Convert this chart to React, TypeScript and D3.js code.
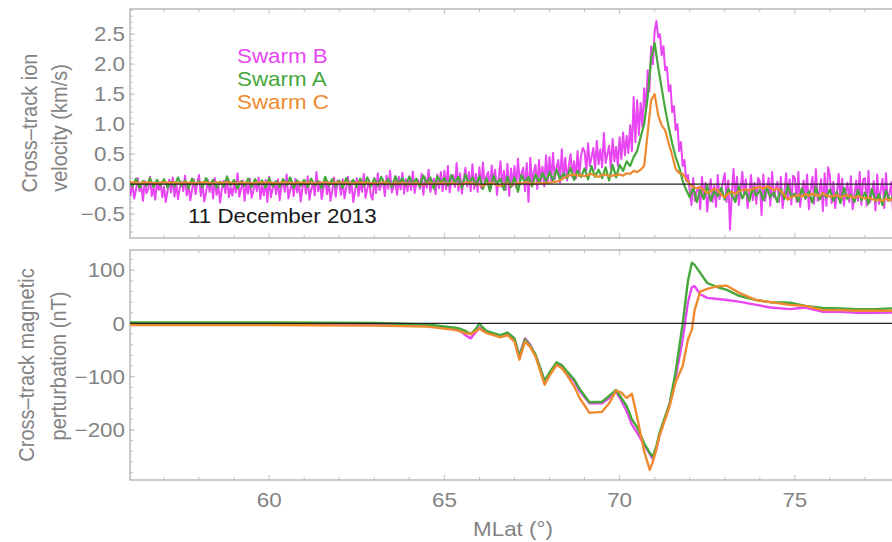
import React from "react";
import * as d3 from "d3";

const W = 892;
const H = 542;

const LAT_START = 56;

// Swarm B cross-track ion velocity (km/s), one sample every 0.05° MLat from 56°
const VEL_B_STEP = 0.05;
const VEL_B = [
  // 56
  0.08, -0.18, 0.02, -0.24, -0.10, 0.10, -0.12, -0.02, -0.28, 0.05, -0.15, -0.08, 0.12, -0.20, -0.05, -0.26, 0.06, -0.10, 0.03, -0.22,
  // 57
  -0.04, -0.30, -0.12, 0.07, -0.14, 0.11, -0.21, 0.01, -0.25, -0.06, 0.04, -0.12, 0.14, -0.19, -0.03, -0.27, -0.10, 0.08, -0.17, 0.02,
  // 58
  0.15, -0.20, 0.00, -0.29, -0.14, 0.07, -0.13, 0.04, -0.24, 0.10, -0.18, -0.02, -0.31, -0.09, 0.05, -0.15, 0.13, -0.22, -0.05, -0.19,
  // 59
  0.02, -0.14, 0.18, -0.21, -0.08, 0.06, -0.28, 0.01, -0.16, 0.09, -0.23, -0.11, 0.04, -0.12, 0.11, -0.25, -0.01, -0.19, 0.07, -0.30,
  // 60
  0.12, -0.22, -0.07, 0.03, -0.17, 0.08, -0.27, -0.04, 0.00, -0.13, 0.16, -0.24, -0.10, 0.04, -0.20, 0.09, -0.14, 0.02, -0.29, -0.06,
  // 61
  0.07, -0.16, 0.13, -0.26, -0.09, 0.01, -0.19, 0.20, -0.12, 0.04, -0.25, -0.07, 0.09, -0.17, 0.03, -0.28, -0.11, 0.11, -0.21, 0.06,
  // 62
  0.02, -0.18, 0.08, -0.24, -0.06, 0.12, -0.15, 0.05, -0.30, -0.12, 0.10, -0.20, 0.04, -0.13, 0.17, -0.23, -0.08, 0.07, -0.19, -0.26,
  // 63
  0.10, -0.15, 0.18, -0.10, -0.02, 0.06, -0.20, 0.14, -0.08, 0.22, -0.14, -0.04, 0.05, -0.18, 0.12, -0.09, 0.19, -0.16, 0.08, -0.12,
  // 64
  0.13, -0.10, 0.21, -0.15, 0.01, 0.07, -0.08, 0.17, -0.18, 0.11, -0.06, 0.24, -0.13, 0.03, 0.09, -0.17, 0.16, -0.07, 0.20, -0.12,
  // 65
  0.22, -0.09, 0.30, -0.14, 0.05, 0.15, -0.05, 0.35, -0.11, 0.18, -0.16, 0.08, 0.27, -0.04, 0.20, -0.12, 0.33, -0.08, 0.17, -0.13,
  // 66
  0.28, -0.07, 0.36, -0.02, 0.12, 0.20, -0.12, 0.31, 0.01, 0.24, -0.18, 0.10, 0.38, -0.05, 0.22, -0.10, 0.34, -0.20, 0.26, -0.03,
  // 67
  0.30, -0.06, 0.42, 0.02, 0.18, 0.27, -0.12, 0.35, -0.30, 0.44, 0.00, 0.20, 0.32, -0.08, 0.40, 0.05, 0.29, -0.04, 0.48, 0.04,
  // 68
  0.45, 0.05, 0.52, 0.08, 0.28, 0.40, 0.02, 0.58, 0.10, 0.44, 0.06, 0.30, 0.50, 0.12, 0.38, 0.09, 0.55, 0.14, 0.47, 0.60,
  // 69
  0.55, 0.22, 0.68, 0.30, 0.45, 0.60, 0.25, 0.72, 0.33, 0.58, 0.28, 0.85, 0.35, 0.50, 0.64, 0.26, 0.75, 0.38, 0.62, 0.30,
  // 70
  0.78, 0.42, 0.86, 0.48, 0.80, 0.52, 0.98, 0.55, 1.45, 0.70, 1.40, 0.82, 1.35, 0.95, 1.60, 1.20, 1.90, 1.55, 2.30, 2.00,
  // 71
  2.55, 2.72, 2.45, 2.50, 2.15, 2.30, 1.90, 1.95, 1.55, 1.65, 1.20, 1.30, 0.90, 1.00, 0.55, 0.70, 0.30, 0.40, 0.05, 0.15,
  // 72
  -0.10, -0.35, 0.10, -0.28, -0.12, -0.05, -0.42, 0.12, -0.22, 0.02, -0.46, -0.15, 0.08, -0.30, -0.02, -0.38, 0.15, -0.25, -0.10, 0.04,
  // 73
  0.18, -0.30, 0.06, -0.76, -0.18, 0.25, -0.24, 0.12, -0.35, -0.10, 0.20, -0.18, 0.08, -0.40, -0.14, 0.15, -0.27, 0.02, -0.33, 0.10,
  // 74
  0.05, -0.52, 0.16, -0.28, -0.12, 0.10, -0.36, 0.20, -0.22, -0.08, 0.04, -0.30, 0.12, -0.40, -0.16, 0.18, -0.26, 0.08, -0.34, 0.14,
  // 75
  0.10, -0.30, 0.20, -0.38, -0.14, 0.06, -0.25, 0.16, -0.42, -0.10, 0.12, -0.33, 0.25, -0.28, -0.12, 0.08, -0.45, 0.18, -0.36, 0.28,
  // 76
  0.14, -0.32, 0.04, -0.40, -0.16, 0.17, -0.26, 0.09, -0.36, -0.12, 0.02, -0.30, 0.13, -0.42, -0.18, 0.06, -0.28, 0.20, -0.35, 0.08,
  // 77
  0.10, -0.36, 0.22, -0.30, -0.14, 0.05, -0.44, 0.16, -0.33, -0.10, 0.09, -0.40, 0.18, -0.28, -0.16, 0.03, -0.46, 0.14, -0.34, 0.07,
  // 78
  0.05,
];

// Swarm A cross-track ion velocity (km/s), one sample every 0.1° MLat from 56°
const VEL_A_STEP = 0.1;
const VEL_A = [
  0.06, -0.04, 0.09, -0.06, 0.05, -0.03, 0.10, -0.05, 0.07, -0.02, // 56
  0.08, -0.06, 0.04, -0.04, 0.11, -0.03, 0.06, -0.07, 0.09, -0.02, // 57
  0.05, -0.05, 0.10, -0.03, 0.07, -0.06, 0.04, -0.04, 0.12, -0.02, // 58
  0.07, -0.07, 0.05, -0.03, 0.09, -0.05, 0.08, -0.02, 0.06, -0.06, // 59
  0.10, -0.04, 0.05, -0.05, 0.08, -0.02, 0.11, -0.06, 0.06, -0.03, // 60
  0.07, -0.05, 0.09, -0.02, 0.05, -0.07, 0.12, -0.03, 0.08, -0.04, // 61
  0.06, -0.06, 0.10, -0.02, 0.07, -0.05, 0.09, -0.03, 0.11, -0.04, // 62
  0.09, -0.03, 0.12, -0.01, 0.08, -0.05, 0.13, 0.00, 0.10, -0.02, // 63
  0.12, 0.00, 0.09, -0.04, 0.14, 0.01, 0.11, -0.08, 0.13, 0.02, // 64
  0.10, -0.03, 0.15, 0.02, 0.12, -0.06, 0.16, 0.01, 0.11, -0.02, // 65
  0.13, -0.08, 0.10, -0.12, 0.14, 0.00, 0.09, -0.10, 0.12, -0.05, // 66
  0.11, -0.13, 0.15, 0.02, 0.12, -0.04, 0.16, 0.03, 0.18, 0.05, // 67
  0.20, 0.06, 0.24, 0.08, 0.18, 0.10, 0.27, 0.07, 0.22, 0.12, // 68
  0.26, 0.08, 0.30, 0.12, 0.24, 0.10, 0.28, 0.06, 0.32, 0.11, // 69
  0.32, 0.22, 0.38, 0.30, 0.45, 0.55, 0.78, 1.00, 1.45, 2.10, // 70
  2.35, 1.95, 1.60, 1.25, 0.95, 0.68, 0.45, 0.28, 0.05, -0.10, // 71
  -0.22, -0.05, -0.30, -0.10, -0.25, -0.02, -0.28, -0.12, -0.20, -0.06, // 72
  -0.26, -0.08, -0.18, -0.30, -0.04, -0.24, -0.12, -0.28, -0.06, -0.20, // 73
  -0.10, -0.27, -0.05, -0.22, -0.14, -0.30, -0.08, -0.25, -0.03, -0.21, // 74
  -0.16, -0.29, -0.07, -0.24, -0.12, -0.31, -0.05, -0.26, -0.15, -0.22, // 75
  -0.09, -0.28, -0.13, -0.32, -0.06, -0.25, -0.18, -0.30, -0.10, -0.27, // 76
  -0.14, -0.33, -0.08, -0.29, -0.17, -0.35, -0.11, -0.28, -0.20, -0.31, // 77
  -0.22, // 78
];

// Swarm C cross-track ion velocity (km/s), one sample every 0.1° MLat from 56°
const VEL_C_STEP = 0.1;
const VEL_C = [
  0.02, 0.03, 0.02, 0.01, 0.03, 0.02, 0.03, 0.02, 0.01, 0.02, // 56
  0.03, 0.02, 0.02, 0.03, 0.01, 0.02, 0.03, 0.02, 0.02, 0.01, // 57
  0.02, 0.03, 0.02, 0.02, 0.01, 0.03, 0.02, 0.02, 0.03, 0.02, // 58
  0.01, 0.02, 0.03, 0.02, 0.02, 0.01, 0.02, 0.03, 0.02, 0.02, // 59
  0.03, 0.02, 0.01, 0.02, 0.03, 0.02, 0.02, 0.01, 0.02, 0.03, // 60
  0.02, 0.02, 0.03, 0.01, 0.02, 0.02, 0.03, 0.02, 0.01, 0.02, // 61
  0.02, 0.03, 0.02, 0.02, 0.01, 0.02, 0.03, 0.02, 0.02, 0.01, // 62
  0.02, 0.01, 0.02, 0.03, 0.01, 0.00, 0.02, 0.01, 0.02, 0.01, // 63
  0.00, 0.01, 0.02, 0.00, -0.01, 0.01, 0.02, 0.00, 0.01, 0.02, // 64
  0.01, 0.00, 0.02, 0.01, -0.01, 0.00, 0.02, 0.03, 0.01, 0.00, // 65
  -0.01, -0.03, 0.00, 0.02, 0.01, -0.02, -0.03, 0.00, 0.01, -0.01, // 66
  0.00, 0.02, 0.01, 0.03, 0.02, 0.00, 0.01, 0.02, 0.01, 0.02, // 67
  0.02, 0.03, 0.04, 0.06, 0.10, 0.13, 0.15, 0.16, 0.14, 0.15, // 68
  0.13, 0.15, 0.17, 0.14, 0.12, 0.15, 0.16, 0.13, 0.14, 0.15, // 69
  0.16, 0.14, 0.18, 0.17, 0.22, 0.20, 0.24, 0.30, 0.85, 1.40, // 70
  1.50, 1.15, 0.98, 0.90, 0.68, 0.48, 0.25, 0.18, 0.17, 0.08, // 71
  0.00, -0.05, -0.07, -0.05, -0.10, -0.15, -0.12, -0.08, -0.10, -0.18, // 72
  -0.22, -0.16, -0.13, -0.17, -0.12, -0.10, -0.09, -0.11, -0.08, -0.06, // 73
  -0.05, -0.08, -0.04, -0.06, -0.10, -0.07, -0.12, -0.18, -0.26, -0.22, // 74
  -0.20, -0.18, -0.21, -0.17, -0.19, -0.16, -0.18, -0.20, -0.15, -0.19, // 75
  -0.21, -0.20, -0.18, -0.22, -0.20, -0.19, -0.21, -0.23, -0.20, -0.22, // 76
  -0.24, -0.22, -0.25, -0.27, -0.26, -0.28, -0.25, -0.27, -0.24, -0.26, // 77
  -0.25, // 78
];

// Cross-track magnetic perturbation (nT) at these MLat values
const MAG_LAT = [
  56, 60, 63, 64.5, 65.3, 65.45, 65.6, 65.75, 65.9, 66.0, 66.1, 66.2, 66.4, 66.6, 66.8, 67.0, 67.14, 67.3, 67.45, 67.6, 67.86,
  68.0, 68.2, 68.35, 68.5, 68.7, 68.86, 69.14, 69.5, 69.7, 69.9, 70.05, 70.2, 70.35, 70.5, 70.7, 70.86, 70.95, 71.05, 71.14, 71.43,
  71.6, 71.8, 71.95, 72.06, 72.14, 72.3, 72.5, 72.8, 73.06, 73.4, 73.9, 74.3, 74.86, 75.3,
  75.8, 76.3, 76.77, 77.3, 78,
];
const MAG_B = [
  0, 0, -1, -4, -10, -14, -22, -28, -16, -8, -12, -16, -20, -24, -18, -30, -60, -28, -40, -60, -108,
  -95, -75, -80, -94, -108, -127, -150, -150, -140, -128, -145, -165, -190, -205, -228, -245, -255, -235, -210, -150,
  -100, -30, 40, 68, 70, 55, 48, 46, 44, 41, 35, 30, 27, 30,
  22, 22, 20, 20, 21,
];
const MAG_A = [
  2, 2, 1, -2, -8, -10, -14, -20, -10, 0, -8, -14, -18, -22, -17, -28, -62, -30, -42, -58, -108,
  -92, -73, -78, -90, -105, -123, -148, -147, -136, -125, -140, -155, -180, -195, -225, -243, -250, -230, -205, -150,
  -90, 0, 80, 114, 110, 95, 76, 68, 63, 52, 44, 40, 39, 33,
  29, 28, 27, 27, 29,
];
const MAG_C = [
  -3, -3, -4, -6, -12, -15, -18, -20, -14, -10, -14, -18, -22, -26, -22, -34, -68, -34, -44, -62, -115,
  -98, -78, -84, -97, -118, -140, -168, -166, -150, -126, -130, -140, -132, -176, -240, -275, -260, -235, -210, -155,
  -110, -80, -30, -12, 25, 60, 65, 70, 71, 58, 44, 40, 35, 33,
  25, 25, 24, 24, 24,
];

const X_TICKS = [60, 65, 70, 75];
const VEL_TICKS = [-0.5, 0, 0.5, 1, 1.5, 2, 2.5];
const MAG_TICKS = [-200, -100, 0, 100];

const SWARM_NAMES = ["Swarm B", "Swarm A", "Swarm C"];
const SWARM_COLORS = ["#e846f2", "#45a83b", "#f08a2e"];

const DATE_LABEL = "11 December 2013";
const X_TITLE = "MLat (°)";
const VEL_TITLE = ["Cross–track ion", "velocity (km/s)"];
const MAG_TITLE = ["Cross–track magnetic", "perturbation (nT)"];

const FONT = "'Liberation Sans', Arial, Helvetica, sans-serif";
const GREY_TEXT = "#838383";
const FRAME = "#a8a8a8";
const TICK = "#c4c4c4";
const SX = 1.12;

const LEFT = 130;
const RIGHT = 900;
const TOP1 = 9;
const BOT1 = 238;
const TOP2 = 250;
const BOT2 = 480;

const x = d3.scaleLinear().domain([56.03, 78]).range([LEFT, RIGHT]);
const yVel = d3.scaleLinear().domain([-0.9, 2.92]).range([BOT1, TOP1]);
const yMag = d3.scaleLinear().domain([-294, 138]).range([BOT2, TOP2]);

function sampled(values: number[], step: number): [number, number][] {
  return values.map((v, i) => [LAT_START + i * step, v]);
}

function Label(props: {
  x: number;
  y: number;
  anchor?: string;
  size?: number;
  fill?: string;
  rotate?: boolean;
  dy?: string;
  children: React.ReactNode;
}) {
  const { x: tx, y: ty, anchor = "start", size = 20, fill = GREY_TEXT, rotate, dy, children } = props;
  return (
    <g transform={`translate(${tx},${ty}) scale(${SX},1)${rotate ? " rotate(-90)" : ""}`}>
      <text textAnchor={anchor} fontSize={size} fill={fill} fontFamily={FONT} dy={dy}>
        {children}
      </text>
    </g>
  );
}

function Frame({ top, bottom, yScale, major, minor, xLen }: any) {
  const xMinor = d3.range(57, 79, 1);
  return (
    <g>
      {xMinor.map((t) => {
        const len = t % 5 === 0 ? 5 : 3;
        return (
          <g key={"xt" + t}>
            <line x1={x(t)} x2={x(t)} y1={top} y2={top + len} stroke={TICK} />
            <line x1={x(t)} x2={x(t)} y1={bottom} y2={bottom - len} stroke={TICK} />
          </g>
        );
      })}
      {minor.map((t: number, i: number) => (
        <line key={"ym" + i} x1={LEFT} x2={LEFT + 3} y1={yScale(t)} y2={yScale(t)} stroke={TICK} />
      ))}
      {major.map((t: number, i: number) => (
        <line key={"yM" + i} x1={LEFT} x2={LEFT + xLen} y1={yScale(t)} y2={yScale(t)} stroke={TICK} />
      ))}
      <rect x={LEFT} y={top} width={RIGHT - LEFT} height={bottom - top} fill="none" stroke={FRAME} strokeWidth={1.2} />
    </g>
  );
}

export default function App() {
  const velLine = d3
    .line<[number, number]>()
    .x((d) => x(d[0]))
    .y((d) => yVel(d[1]));
  const magLine = d3
    .line<[number, number]>()
    .x((d) => x(d[0]))
    .y((d) => yMag(d[1]));

  const velSeries = [
    { data: sampled(VEL_B, VEL_B_STEP), color: SWARM_COLORS[0], w: 2 },
    { data: sampled(VEL_A, VEL_A_STEP), color: SWARM_COLORS[1], w: 2.2 },
    { data: sampled(VEL_C, VEL_C_STEP), color: SWARM_COLORS[2], w: 2.2 },
  ];
  const magSeries = [
    { vals: MAG_B, color: SWARM_COLORS[0] },
    { vals: MAG_A, color: SWARM_COLORS[1] },
    { vals: MAG_C, color: SWARM_COLORS[2] },
  ];

  const velMinor = d3.range(-0.8, 2.95, 0.1).map((v) => Math.round(v * 10) / 10);
  const magMinor = d3.range(-280, 140, 20);

  return (
    <div style={{ position: "absolute", left: 0, top: 0, width: W, height: H, background: "#fff" }}>
      <svg width={W} height={H} viewBox={`0 0 ${W} ${H}`} style={{ display: "block" }}>
        <defs>
          <clipPath id="clipVel">
            <rect x={LEFT} y={TOP1} width={RIGHT - LEFT} height={BOT1 - TOP1} />
          </clipPath>
          <clipPath id="clipMag">
            <rect x={LEFT} y={TOP2} width={RIGHT - LEFT} height={BOT2 - TOP2} />
          </clipPath>
        </defs>
        <rect width={W} height={H} fill="#fff" />

        {/* ion velocity panel */}
        <Frame top={TOP1} bottom={BOT1} yScale={yVel} major={VEL_TICKS} minor={velMinor} xLen={5} />
        <g clipPath="url(#clipVel)">
          {velSeries.map((s, i) => (
            <path key={i} d={velLine(s.data) || ""} fill="none" stroke={s.color} strokeWidth={s.w} strokeLinejoin="round" />
          ))}
          <line x1={LEFT} x2={RIGHT} y1={yVel(0)} y2={yVel(0)} stroke="#222" strokeWidth={1.3} />
        </g>
        {VEL_TICKS.map((t) => (
          <Label key={"vl" + t} x={125} y={yVel(t)} anchor="end" dy="0.36em">
            {t === 0 ? "0.0" : t < 0 ? "\u2212" + Math.abs(t).toFixed(1) : t.toFixed(1)}
          </Label>
        ))}
        <Label x={29} y={123} anchor="middle" rotate dy="0.36em">
          {VEL_TITLE[0]}
        </Label>
        <Label x={59} y={128} anchor="middle" rotate dy="0.36em">
          {VEL_TITLE[1]}
        </Label>
        {SWARM_NAMES.map((n, i) => (
          <Label key={n} x={237} y={63 + i * 23} fill={SWARM_COLORS[i]}>
            {n}
          </Label>
        ))}
        <Label x={188} y={223} fill="#1a1a1a">
          {DATE_LABEL}
        </Label>

        {/* magnetic perturbation panel */}
        <Frame top={TOP2} bottom={BOT2} yScale={yMag} major={MAG_TICKS} minor={magMinor} xLen={5} />
        <g clipPath="url(#clipMag)">
          {magSeries.map((s, i) => (
            <path
              key={i}
              d={magLine(MAG_LAT.map((lat, j) => [lat, s.vals[j]] as [number, number])) || ""}
              fill="none"
              stroke={s.color}
              strokeWidth={2.4}
              strokeLinejoin="round"
            />
          ))}
          <line x1={LEFT} x2={RIGHT} y1={yMag(0)} y2={yMag(0)} stroke="#222" strokeWidth={1.3} />
        </g>
        {MAG_TICKS.map((t) => (
          <Label key={"ml" + t} x={125} y={yMag(t)} anchor="end" dy="0.36em">
            {t < 0 ? "\u2212" + Math.abs(t) : String(t)}
          </Label>
        ))}
        <Label x={26} y={365} anchor="middle" rotate dy="0.36em">
          {MAG_TITLE[0]}
        </Label>
        <Label x={58} y={366} anchor="middle" rotate dy="0.36em">
          {MAG_TITLE[1]}
        </Label>

        {X_TICKS.map((t) => (
          <Label key={"xl" + t} x={x(t)} y={507} anchor="middle">
            {String(t)}
          </Label>
        ))}
        <Label x={513} y={536} anchor="middle">
          {X_TITLE}
        </Label>
      </svg>
    </div>
  );
}
